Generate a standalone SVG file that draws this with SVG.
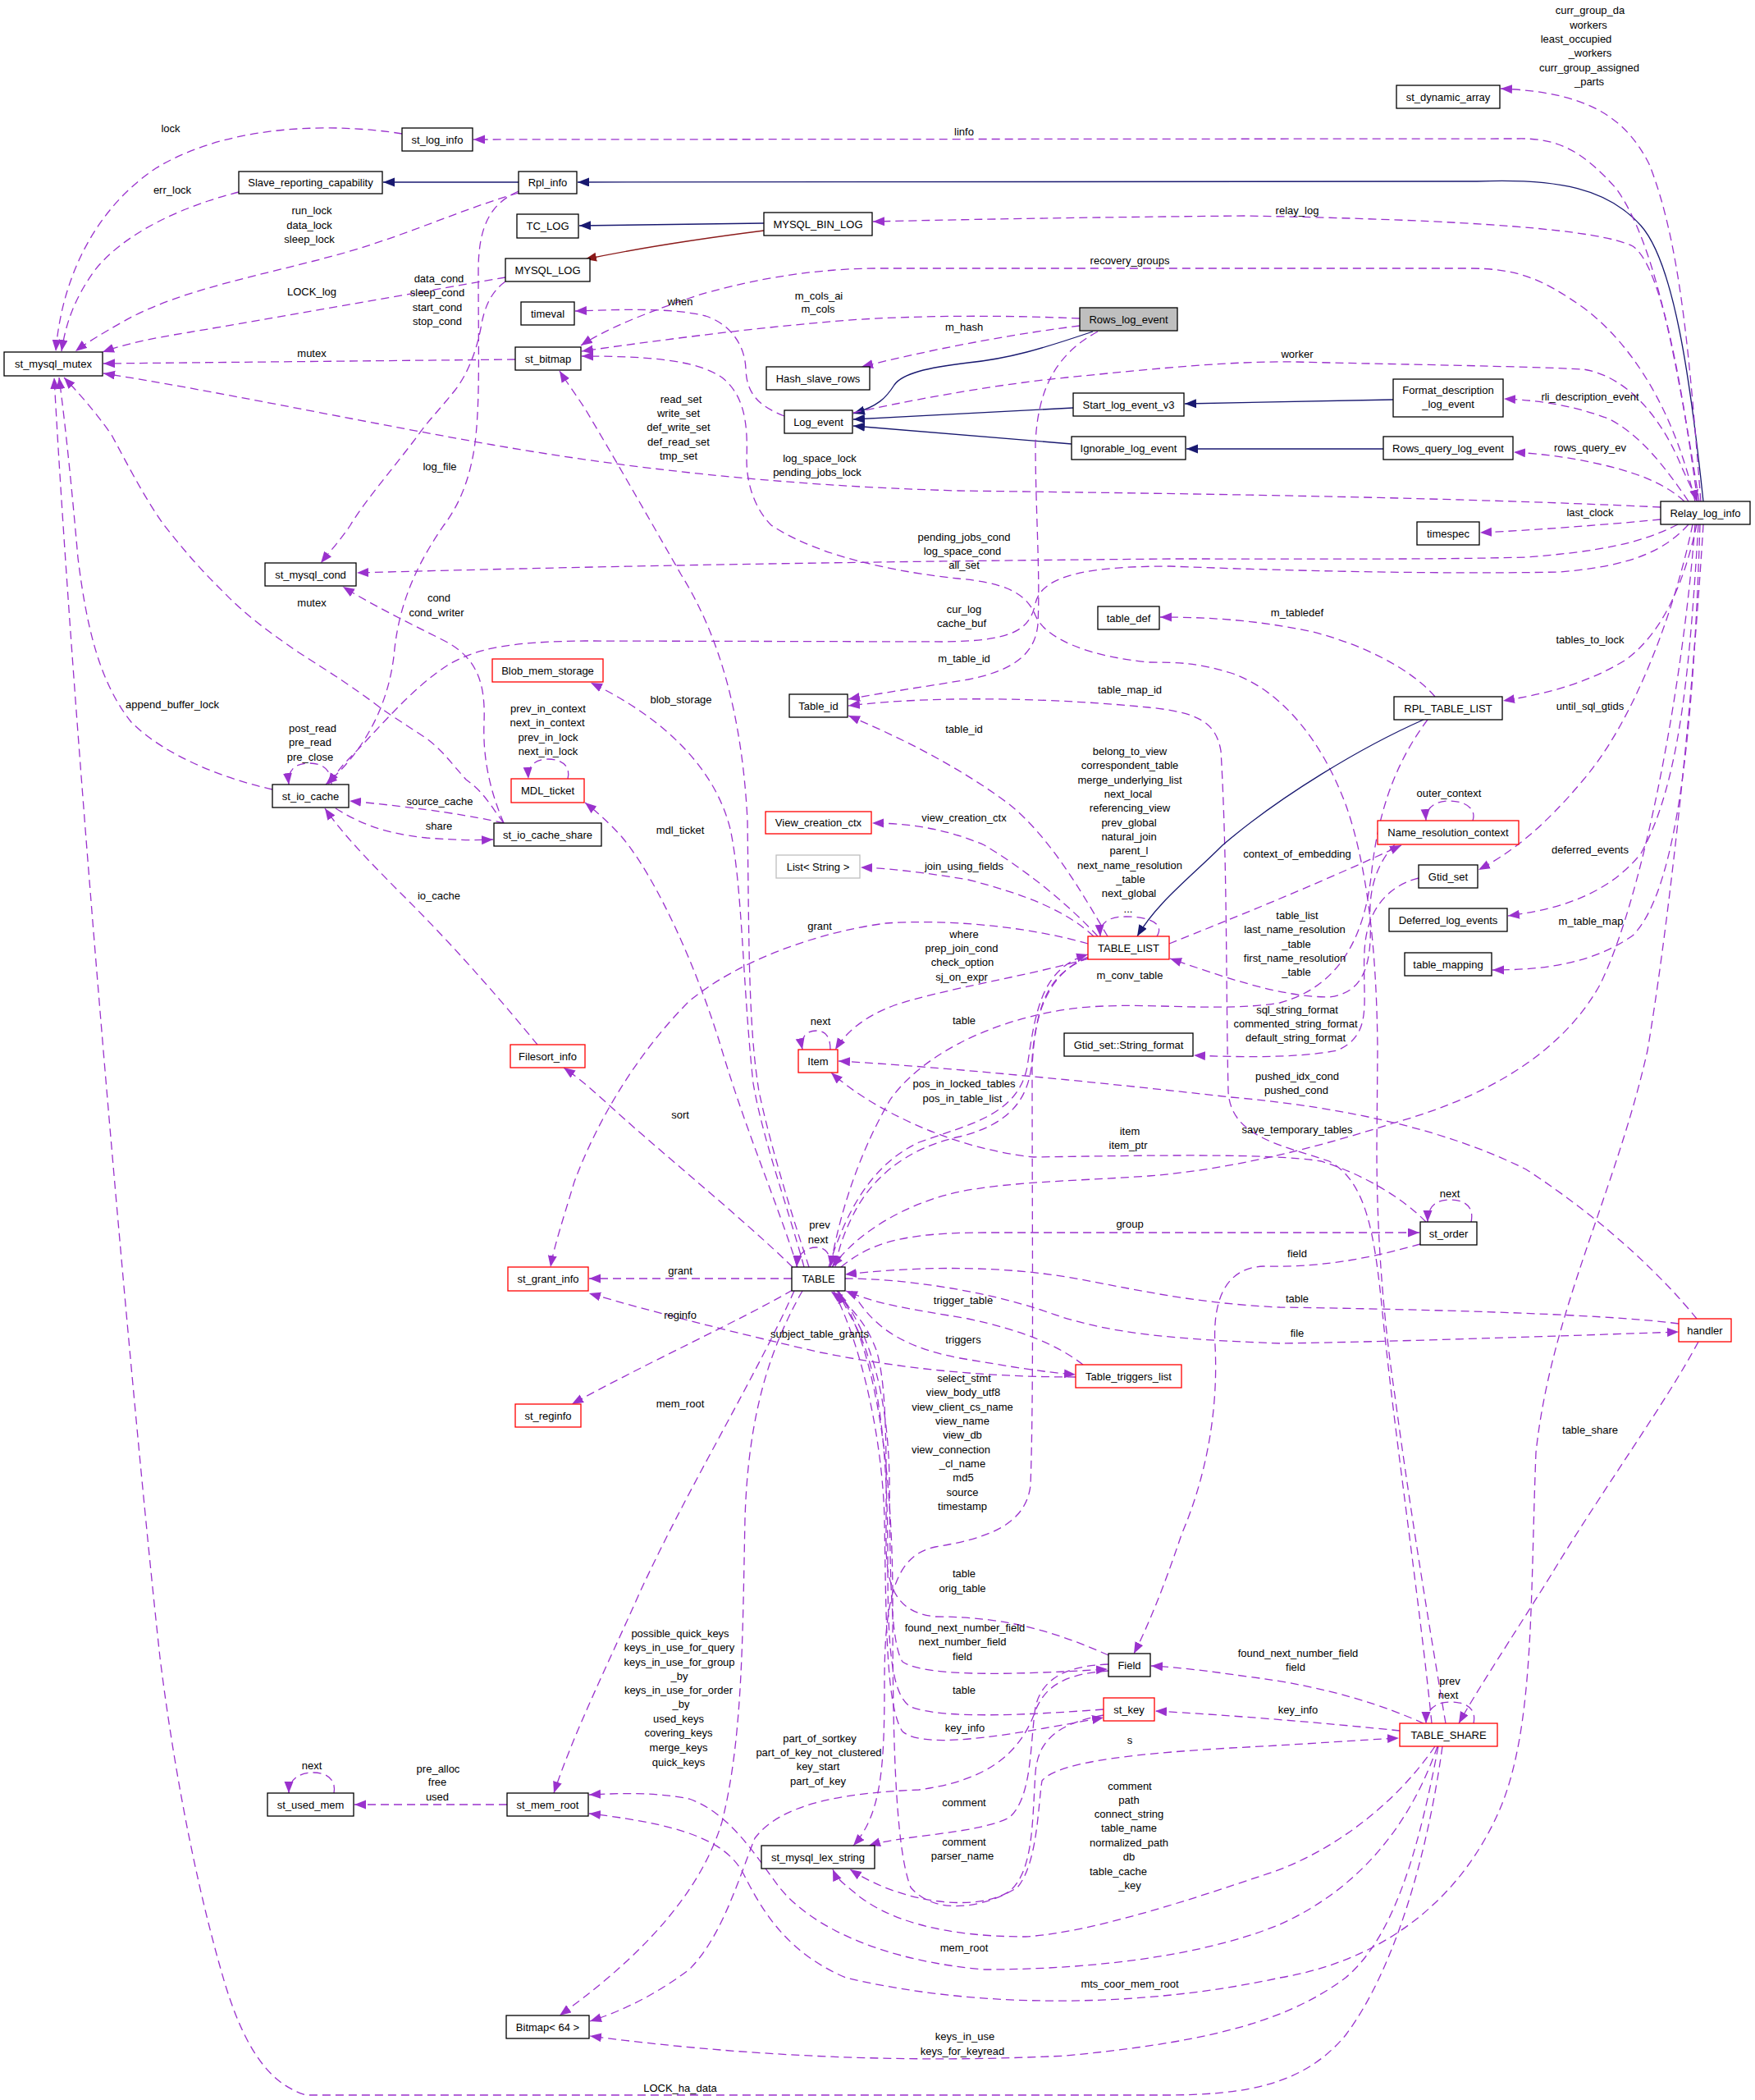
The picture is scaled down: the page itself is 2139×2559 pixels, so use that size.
<svg xmlns="http://www.w3.org/2000/svg" width="2139" height="2559" viewBox="0 0 2139 2559">
<style>
text{font-family:"Liberation Sans",Arial,Helvetica,sans-serif;font-size:13px;fill:#000;text-anchor:middle}
.n rect{fill:#fff;stroke:#000;stroke-width:1.3}
.r rect{fill:#fff;stroke:#ff0000;stroke-width:1.3}
.g rect{fill:#fff;stroke:#bfbfbf;stroke-width:1.3}
.root rect{fill:#bfbfbf;stroke:#000;stroke-width:1.3}
#edges path{fill:none;stroke-width:1.3}
#edges path.e{stroke:#9a32cd;stroke-dasharray:10,6;marker-end:url(#pa)}
#edges path.i{stroke:#191970;marker-end:url(#ba)}
#edges path.p{stroke:#8b1a1a;marker-end:url(#ra)}
</style>
<defs>
<marker id="pa" markerUnits="userSpaceOnUse" markerWidth="16" markerHeight="12" refX="14" refY="5.5" orient="auto"><path d="M0,0 L14,5.5 L0,11 z" fill="#9a32cd"/></marker>
<marker id="ba" markerUnits="userSpaceOnUse" markerWidth="16" markerHeight="12" refX="14" refY="5.5" orient="auto"><path d="M0,0 L14,5.5 L0,11 z" fill="#191970"/></marker>
<marker id="ra" markerUnits="userSpaceOnUse" markerWidth="16" markerHeight="12" refX="14" refY="5.5" orient="auto"><path d="M0,0 L14,5.5 L0,11 z" fill="#8b1a1a"/></marker>
</defs>
<rect x="0" y="0" width="2139" height="2559" fill="#fff"/>
<g id="edges">
<path class="e" d="M490,163 C410,150 280,150 190,205 C115,255 75,340 68,428"/>
<path class="e" d="M291,234 C220,252 150,285 115,330 C90,365 80,395 75,428"/>
<path class="i" d="M632,222 L467,222"/>
<path class="e" d="M632,235 C560,256 500,285 420,308 C320,336 220,352 150,392 C125,406 105,418 92,428"/>
<path class="e" d="M616,338 C500,358 330,388 230,405 C180,413 150,420 125,429"/>
<path class="e" d="M628,438 L126,443"/>
<path class="e" d="M2024,618 C1750,605 1400,601 1168,598 C950,592 760,570 600,542 C420,510 250,474 126,455"/>
<path class="e" d="M632,233 C598,248 583,275 583,330 C583,420 585,480 580,531 C575,580 560,615 541,640 C510,685 488,730 481,790 C476,850 450,910 397,956"/>
<path class="e" d="M616,343 C598,356 590,375 586,400 C580,430 570,455 555,475 C535,500 520,515 509,531 C480,570 445,610 427,640 C415,658 402,672 391,686"/>
<path class="i" d="M931,272 L706,275"/>
<path class="p" d="M931,281 C860,290 780,302 713,316"/>
<path class="i" d="M2076,611 C2060,460 2040,320 2000,275 C1960,230 1900,217 1800,221 L704,222"/>
<path class="e" d="M2073,611 C2060,450 2050,300 2010,200 C1980,140 1930,112 1829,108"/>
<path class="e" d="M2071,611 C2045,450 2020,300 1970,230 C1930,185 1900,168 1850,169 L577,170"/>
<path class="e" d="M2069,611 C2045,430 2020,320 1990,300 C1950,280 1800,268 1517,263 C1300,265 1150,268 1064,270"/>
<path class="e" d="M2066,611 C2040,500 1990,420 1930,375 C1880,340 1850,327 1790,327 L1072,327 C980,327 900,345 850,360 C790,380 740,400 708,421"/>
<path class="e" d="M1316,388 C1200,383 1080,385 1000,393 C900,402 800,415 709,428"/>
<path class="e" d="M1316,397 C1250,405 1150,422 1050,447"/>
<path class="i" d="M1332,404 C1270,425 1230,437 1180,442 C1130,448 1100,455 1090,469 C1080,485 1070,495 1040,504"/>
<path class="i" d="M1308,497 L1040,511"/>
<path class="i" d="M1306,541 L1040,519"/>
<path class="i" d="M1698,487 L1444,492"/>
<path class="i" d="M1686,547 L1446,547"/>
<path class="e" d="M956,507 C925,495 910,480 909,450 C908,420 890,395 860,385 C820,375 760,377 701,379"/>
<path class="e" d="M1040,503 C1100,490 1200,470 1300,460 C1420,448 1500,440 1580,441 C1700,444 1850,446 1930,450 C1990,460 2030,520 2050,570 C2060,592 2066,603 2068,611"/>
<path class="e" d="M2058,611 C2030,570 2000,530 1960,510 C1920,495 1880,488 1833,486"/>
<path class="e" d="M2053,611 C2030,590 2000,578 1960,568 C1920,558 1880,553 1845,551"/>
<path class="e" d="M2024,633 C1950,640 1870,646 1804,649"/>
<path class="e" d="M2045,639 C2000,662 1950,672 1860,679 C1750,682 1600,681 1426,681 C1100,684 800,688 435,698"/>
<path class="e" d="M2058,639 C2030,670 1990,690 1900,697 C1750,700 1550,695 1426,690 C1330,690 1270,700 1262,735 C1255,770 1230,781 1150,782 L713,781 C620,782 580,790 545,811 C500,840 460,890 420,930 C410,942 405,948 400,956"/>
<path class="e" d="M1762,2100 C1745,2000 1720,1850 1700,1700 C1685,1600 1678,1500 1678,1400 L1679,1280 C1678,1150 1665,1050 1640,980 C1610,900 1560,840 1500,820 C1460,808 1440,807 1400,807 C1330,800 1275,780 1262,750 C1250,720 1220,710 1168,705 C1100,698 1000,680 940,640 C920,620 910,590 910,560 C912,510 905,480 880,460 C850,440 800,434 709,434"/>
<path class="e" d="M986,1544 C965,1480 940,1400 925,1330 C912,1250 913,1150 911,1000 C905,880 880,780 830,700 C790,630 750,560 713,498 C700,478 690,465 682,452"/>
<path class="e" d="M980,1544 C960,1470 930,1390 918,1320 C905,1200 905,1080 890,1010 C870,930 800,870 720,832"/>
<path class="e" d="M972,1544 C945,1460 910,1380 880,1280 C850,1180 800,1070 758,1020 C740,1000 728,990 713,978"/>
<path class="e" d="M614,1003 C600,970 588,930 590,880 C592,830 580,800 540,780 C490,755 450,735 418,715"/>
<path class="e" d="M409,985 C430,998 460,1015 520,1021 C560,1024 580,1024 601,1023"/>
<path class="e" d="M614,1003 C580,995 520,985 426,976"/>
<path class="e" d="M404,956 C404,935 390,930 377,930 C360,930 350,938 352,956"/>
<path class="e" d="M655,1273 C620,1230 560,1160 500,1100 C460,1060 420,1020 396,985"/>
<path class="e" d="M614,1003 C600,985 590,965 568,950 C550,930 540,915 520,900 C490,880 470,868 455,856 C420,830 390,812 364,795 C320,765 295,745 273,722 C240,690 220,665 200,640 C175,605 155,565 136,530 C115,500 95,478 78,460"/>
<path class="e" d="M332,962 C270,948 200,920 160,880 C120,830 105,760 95,680 C88,600 80,520 72,460"/>
<path class="e" d="M1758,2128 C1740,2260 1700,2400 1640,2480 C1590,2540 1520,2553 1420,2553 L373,2553 C330,2540 300,2500 275,2420 C245,2320 215,2180 195,2020 C160,1700 90,900 66,460"/>
<path class="e" d="M966,1544 C900,1480 800,1400 735,1340 C715,1322 700,1310 687,1301"/>
<path class="e" d="M965,1558 L718,1558"/>
<path class="e" d="M966,1572 C900,1610 790,1660 697,1711"/>
<path class="e" d="M1311,1678 C1200,1678 1100,1668 1000,1648 C900,1625 800,1600 718,1576"/>
<path class="e" d="M1320,1663 C1290,1640 1250,1622 1180,1607 C1110,1595 1070,1590 1031,1573"/>
<path class="e" d="M1038,1573 C1060,1610 1090,1640 1170,1655 C1230,1665 1270,1672 1311,1675"/>
<path class="e" d="M1327,1168 C1250,1190 1150,1205 1090,1225 C1050,1240 1030,1260 1018,1279"/>
<path class="e" d="M1012,1279 C1012,1262 1005,1256 995,1256 C982,1256 975,1265 978,1279"/>
<path class="e" d="M1012,1544 C1013,1528 1006,1520 995,1520 C982,1520 972,1528 971,1544"/>
<path class="e" d="M1010,1544 C1030,1480 1060,1420 1120,1392 C1180,1370 1240,1360 1252,1300 C1262,1230 1270,1180 1326,1163"/>
<path class="e" d="M1326,1166 C1280,1185 1262,1230 1258,1290 C1255,1340 1230,1370 1170,1385 C1100,1400 1060,1440 1040,1480 C1030,1500 1022,1520 1018,1544"/>
<path class="e" d="M1025,1544 C1060,1515 1100,1502 1200,1502 L1730,1502"/>
<path class="e" d="M2066,639 C2050,850 2000,1100 1950,1200 C1900,1290 1800,1340 1700,1368 C1600,1400 1500,1425 1400,1433 C1300,1440 1200,1440 1140,1460 C1080,1480 1040,1510 1014,1544"/>
<path class="e" d="M1738,1489 C1710,1460 1660,1430 1610,1415 C1550,1405 1400,1408 1260,1410 C1160,1400 1060,1350 1013,1307"/>
<path class="e" d="M1793,1489 C1797,1470 1785,1462 1767,1462 C1750,1462 1740,1470 1740,1489"/>
<path class="e" d="M2068,1607 C2030,1560 1960,1490 1860,1425 C1770,1380 1650,1350 1500,1337 C1350,1320 1150,1300 1022,1293"/>
<path class="e" d="M1731,1516 C1680,1530 1620,1545 1540,1543 C1490,1545 1478,1590 1481,1640 C1485,1720 1470,1800 1440,1870 C1420,1930 1400,1980 1382,2015"/>
<path class="e" d="M2046,1613 C1950,1600 1700,1595 1560,1593 C1450,1588 1380,1570 1300,1556 C1200,1540 1100,1545 1030,1553"/>
<path class="e" d="M1030,1558 C1100,1558 1200,1572 1280,1600 C1350,1625 1430,1632 1560,1637 C1700,1635 1900,1628 2046,1623"/>
<path class="e" d="M2070,1635 C2030,1710 1950,1820 1890,1920 C1840,2000 1800,2060 1778,2100"/>
<path class="e" d="M1796,2100 C1800,2080 1785,2074 1767,2074 C1748,2074 1738,2085 1738,2100"/>
<path class="e" d="M1735,2100 C1690,2080 1620,2055 1520,2043 C1470,2036 1440,2032 1403,2030"/>
<path class="e" d="M1706,2109 C1620,2100 1500,2090 1408,2085"/>
<path class="e" d="M968,1573 C920,1680 840,1810 780,1940 C740,2030 700,2110 675,2185"/>
<path class="e" d="M978,1573 C940,1640 912,1720 908,1850 C905,2000 905,2120 880,2220 C850,2320 760,2400 682,2456"/>
<path class="e" d="M1753,2128 C1730,2250 1700,2360 1640,2410 C1560,2470 1450,2490 1300,2505 C1100,2515 900,2505 719,2481"/>
<path class="e" d="M1351,2036 C1290,2040 1270,2060 1260,2090 C1240,2140 1200,2170 1120,2181 C1020,2185 950,2200 920,2240 C900,2290 880,2360 840,2400 C800,2430 760,2450 719,2463"/>
<path class="e" d="M1752,2128 C1720,2220 1660,2300 1560,2345 C1450,2390 1300,2400 1200,2400 C1080,2390 990,2350 950,2300 C920,2260 890,2210 840,2192 C800,2184 760,2185 718,2187"/>
<path class="e" d="M2076,639 C2060,900 2030,1150 2008,1280 C1970,1450 1890,1600 1872,1770 C1865,1950 1870,2100 1830,2200 C1780,2320 1680,2390 1560,2410 C1400,2445 1200,2450 1031,2410 C960,2380 930,2330 908,2287 C890,2250 850,2225 718,2210"/>
<path class="e" d="M618,2199 L432,2199"/>
<path class="e" d="M407,2185 C410,2168 398,2160 382,2160 C365,2160 352,2168 352,2185"/>
<path class="e" d="M1351,2017 C1290,1990 1230,1970 1140,1970 C1090,1965 1080,1930 1080,1880 C1080,1780 1082,1690 1068,1645 C1055,1610 1035,1590 1013,1574"/>
<path class="e" d="M1020,1573 C1060,1620 1082,1700 1084,1800 C1085,1900 1084,2000 1100,2025 C1130,2045 1250,2040 1350,2034"/>
<path class="e" d="M1345,2083 C1250,2090 1150,2095 1110,2080 C1085,2065 1082,2000 1082,1900 C1082,1790 1075,1680 1045,1620 C1035,1600 1026,1585 1022,1574"/>
<path class="e" d="M1016,1573 C1050,1640 1075,1750 1078,1850 C1080,1980 1080,2080 1100,2110 C1130,2135 1250,2110 1345,2093"/>
<path class="e" d="M1351,2028 C1300,2030 1270,2045 1262,2080 C1255,2130 1258,2190 1230,2215 C1190,2235 1100,2236 1059,2249"/>
<path class="e" d="M1345,2090 C1290,2100 1265,2120 1262,2160 C1258,2220 1260,2280 1230,2305 C1190,2330 1100,2320 1036,2278"/>
<path class="e" d="M1022,1573 C1070,1650 1088,1800 1088,1950 C1088,2100 1090,2250 1110,2300 C1140,2335 1200,2325 1240,2300 C1265,2270 1265,2200 1270,2170 C1290,2145 1400,2136 1500,2130 C1600,2125 1660,2120 1705,2118"/>
<path class="e" d="M1749,2128 C1700,2200 1620,2260 1540,2285 C1450,2315 1330,2355 1250,2360 C1150,2360 1080,2340 1040,2305 C1028,2295 1020,2290 1015,2278"/>
<path class="e" d="M1327,1167 C1280,1185 1262,1220 1258,1300 C1258,1500 1260,1700 1256,1810 C1250,1860 1200,1875 1140,1885 C1090,1895 1078,1950 1078,2050 C1078,2150 1075,2210 1040,2249"/>
<path class="e" d="M1410,1141 C1420,1125 1400,1117 1372,1117 C1350,1117 1340,1125 1341,1141"/>
<path class="e" d="M1350,1141 C1320,1090 1280,1020 1230,980 C1170,935 1100,900 1034,872"/>
<path class="e" d="M1338,1141 C1300,1100 1250,1060 1200,1030 C1150,1008 1100,1003 1063,1003"/>
<path class="e" d="M1333,1141 C1300,1110 1250,1090 1180,1072 C1120,1062 1080,1058 1049,1057"/>
<path class="e" d="M1326,1150 C1250,1128 1150,1120 1080,1125 C1000,1135 900,1170 840,1220 C780,1280 730,1360 700,1440 C685,1490 675,1520 671,1544"/>
<path class="e" d="M1338,404 C1290,430 1265,470 1262,540 C1262,620 1268,700 1265,760 C1262,800 1230,818 1180,828 C1120,838 1070,845 1034,852"/>
<path class="e" d="M1745,2100 C1730,1950 1700,1750 1685,1600 C1675,1500 1665,1440 1620,1415 C1560,1395 1500,1385 1497,1330 C1494,1200 1496,1050 1488,915 C1482,880 1460,868 1400,862 C1300,852 1150,846 1034,860"/>
<path class="i" d="M1735,877 C1660,910 1560,970 1490,1030 C1450,1070 1410,1100 1386,1141"/>
<path class="e" d="M1749,849 C1720,815 1660,785 1600,770 C1530,755 1470,752 1414,752"/>
<path class="e" d="M2068,639 C2055,700 2030,770 1980,805 C1930,835 1880,846 1832,854"/>
<path class="e" d="M1425,1150 C1500,1120 1600,1080 1708,1030"/>
<path class="e" d="M1795,1000 C1800,985 1785,976 1767,976 C1748,976 1737,985 1738,1000"/>
<path class="e" d="M1700,1029 C1680,1050 1668,1080 1670,1120 C1672,1170 1665,1210 1620,1215 C1560,1215 1490,1190 1426,1168"/>
<path class="e" d="M1729,1070 C1690,1080 1665,1110 1663,1160 C1660,1220 1675,1260 1630,1280 C1580,1290 1500,1288 1455,1286"/>
<path class="e" d="M2063,639 C2040,750 1990,880 1930,950 C1880,1010 1840,1040 1802,1060"/>
<path class="e" d="M2070,639 C2060,800 2050,950 2000,1040 C1960,1090 1900,1108 1838,1116"/>
<path class="e" d="M2072,639 C2065,850 2050,1080 1990,1140 C1940,1175 1880,1182 1819,1182"/>
<path class="e" d="M1740,877 C1700,930 1680,990 1672,1060 C1665,1130 1640,1200 1560,1222 C1480,1235 1380,1218 1300,1230 C1200,1245 1120,1290 1085,1340 C1050,1400 1025,1470 1012,1544"/>
<path class="e" d="M692,949 C696,933 684,925 668,925 C652,925 643,933 644,949"/>
</g>
<g id="labels">
<text x="208" y="161">lock</text>
<text x="210" y="236">err_lock</text>
<text x="380" y="261">run_lock</text><text x="377" y="279">data_lock</text><text x="377" y="296">sleep_lock</text>
<text x="380" y="360">LOCK_log</text>
<text x="535" y="344">data_cond</text><text x="533" y="361">sleep_cond</text><text x="533" y="379">start_cond</text><text x="533" y="396">stop_cond</text>
<text x="380" y="435">mutex</text>
<text x="536" y="573">log_file</text>
<text x="1175" y="165">linfo</text>
<text x="1377" y="322">recovery_groups</text>
<text x="829" y="372">when</text>
<text x="998" y="365">m_cols_ai</text><text x="997" y="381">m_cols</text>
<text x="1175" y="403">m_hash</text>
<text x="830" y="491">read_set</text><text x="827" y="508">write_set</text><text x="827" y="525">def_write_set</text><text x="827" y="543">def_read_set</text><text x="827" y="560">tmp_set</text>
<text x="999" y="563">log_space_lock</text><text x="996" y="580">pending_jobs_lock</text>
<text x="1938" y="17">curr_group_da</text><text x="1936" y="35">workers</text><text x="1921" y="52">least_occupied</text><text x="1938" y="69">_workers</text><text x="1937" y="87">curr_group_assigned</text><text x="1937" y="104">_parts</text>
<text x="1581" y="261">relay_log</text>
<text x="1581" y="436">worker</text>
<text x="1938" y="488">rli_description_event</text>
<text x="1938" y="550">rows_query_ev</text>
<text x="1938" y="629">last_clock</text>
<text x="380" y="739">mutex</text>
<text x="535" y="733">cond</text><text x="532" y="751">cond_writer</text>
<text x="210" y="863">append_buffer_lock</text>
<text x="381" y="892">post_read</text><text x="378" y="909">pre_read</text><text x="378" y="927">pre_close</text>
<text x="536" y="981">source_cache</text>
<text x="535" y="1011">share</text>
<text x="535" y="1096">io_cache</text>
<text x="668" y="868">prev_in_context</text><text x="667" y="885">next_in_context</text><text x="668" y="903">prev_in_lock</text><text x="668" y="920">next_in_lock</text>
<text x="1175" y="659">pending_jobs_cond</text><text x="1173" y="676">log_space_cond</text><text x="1175" y="693">all_set</text>
<text x="1175" y="747">cur_log</text><text x="1172" y="764">cache_buf</text>
<text x="1175" y="807">m_table_id</text>
<text x="830" y="857">blob_storage</text>
<text x="1377" y="845">table_map_id</text>
<text x="1175" y="893">table_id</text>
<text x="1377" y="920">belong_to_view</text><text x="1377" y="937">correspondent_table</text><text x="1377" y="955">merge_underlying_list</text><text x="1375" y="972">next_local</text><text x="1377" y="989">referencing_view</text><text x="1376" y="1007">prev_global</text><text x="1376" y="1024">natural_join</text><text x="1376" y="1041">parent_l</text><text x="1377" y="1059">next_name_resolution</text><text x="1378" y="1076">_table</text><text x="1376" y="1093">next_global</text><text x="1375" y="1112">...</text>
<text x="829" y="1016">mdl_ticket</text>
<text x="1175" y="1001">view_creation_ctx</text>
<text x="1175" y="1060">join_using_fields</text>
<text x="999" y="1133">grant</text>
<text x="1175" y="1143">where</text><text x="1172" y="1160">prep_join_cond</text><text x="1173" y="1177">check_option</text><text x="1172" y="1195">sj_on_expr</text>
<text x="1377" y="1193">m_conv_table</text>
<text x="1000" y="1249">next</text>
<text x="1175" y="1248">table</text>
<text x="1581" y="751">m_tabledef</text>
<text x="1938" y="784">tables_to_lock</text>
<text x="1938" y="865">until_sql_gtids</text>
<text x="1766" y="971">outer_context</text>
<text x="1581" y="1045">context_of_embedding</text>
<text x="1938" y="1040">deferred_events</text>
<text x="1581" y="1120">table_list</text><text x="1578" y="1137">last_name_resolution</text><text x="1580" y="1155">_table</text><text x="1578" y="1172">first_name_resolution</text><text x="1580" y="1189">_table</text>
<text x="1939" y="1127">m_table_map</text>
<text x="1581" y="1235">sql_string_format</text><text x="1579" y="1252">commented_string_format</text><text x="1579" y="1269">default_string_format</text>
<text x="1175" y="1325">pos_in_locked_tables</text><text x="1173" y="1343">pos_in_table_list</text>
<text x="829" y="1363">sort</text>
<text x="1377" y="1383">item</text><text x="1375" y="1400">item_ptr</text>
<text x="1377" y="1496">group</text>
<text x="999" y="1497">prev</text><text x="997" y="1515">next</text>
<text x="829" y="1553">grant</text>
<text x="1174" y="1589">trigger_table</text>
<text x="829" y="1607">reginfo</text>
<text x="999" y="1630">subject_table_grants</text>
<text x="1174" y="1637">triggers</text>
<text x="1175" y="1684">select_stmt</text><text x="1174" y="1701">view_body_utf8</text><text x="1173" y="1719">view_client_cs_name</text><text x="1173" y="1736">view_name</text><text x="1173" y="1753">view_db</text><text x="1159" y="1771">view_connection</text><text x="1173" y="1788">_cl_name</text><text x="1174" y="1805">md5</text><text x="1173" y="1823">source</text><text x="1173" y="1840">timestamp</text>
<text x="829" y="1715">mem_root</text>
<text x="1175" y="1922">table</text><text x="1173" y="1940">orig_table</text>
<text x="1581" y="1316">pushed_idx_cond</text><text x="1580" y="1333">pushed_cond</text>
<text x="1581" y="1381">save_temporary_tables</text>
<text x="1767" y="1459">next</text>
<text x="1581" y="1532">field</text>
<text x="1581" y="1587">table</text>
<text x="1581" y="1629">file</text>
<text x="1938" y="1747">table_share</text>
<text x="380" y="2156">next</text>
<text x="534" y="2160">pre_alloc</text><text x="533" y="2176">free</text><text x="533" y="2194">used</text>
<text x="829" y="1995">possible_quick_keys</text><text x="828" y="2012">keys_in_use_for_query</text><text x="828" y="2030">keys_in_use_for_group</text><text x="828" y="2047">_by</text><text x="827" y="2064">keys_in_use_for_order</text><text x="830" y="2081">_by</text><text x="827" y="2099">used_keys</text><text x="827" y="2116">covering_keys</text><text x="827" y="2134">merge_keys</text><text x="827" y="2152">quick_keys</text>
<text x="1176" y="1988">found_next_number_field</text><text x="1173" y="2005">next_number_field</text><text x="1173" y="2023">field</text>
<text x="1175" y="2064">table</text>
<text x="1176" y="2110">key_info</text>
<text x="1377" y="2125">s</text>
<text x="999" y="2123">part_of_sortkey</text><text x="998" y="2140">part_of_key_not_clustered</text><text x="997" y="2157">key_start</text><text x="997" y="2175">part_of_key</text>
<text x="1175" y="2201">comment</text>
<text x="1377" y="2181">comment</text><text x="1376" y="2198">path</text><text x="1376" y="2215">connect_string</text><text x="1376" y="2232">table_name</text><text x="1376" y="2250">normalized_path</text><text x="1376" y="2267">db</text><text x="1363" y="2285">table_cache</text><text x="1377" y="2302">_key</text>
<text x="1175" y="2249">comment</text><text x="1173" y="2266">parser_name</text>
<text x="1175" y="2378">mem_root</text>
<text x="1377" y="2422">mts_coor_mem_root</text>
<text x="1176" y="2486">keys_in_use</text><text x="1173" y="2504">keys_for_keyread</text>
<text x="829" y="2549">LOCK_ha_data</text>
<text x="1582" y="2019">found_next_number_field</text><text x="1579" y="2036">field</text>
<text x="1767" y="2053">prev</text><text x="1765" y="2070">next</text>
<text x="1582" y="2088">key_info</text>
</g>
<g id="n_st_log_info" class="n"><rect x="490" y="156" width="86" height="28"/><text x="533" y="174.5">st_log_info</text></g>
<g id="n_Slave_reporting_capability" class="n"><rect x="291" y="209" width="175" height="27"/><text x="378.5" y="227">Slave_reporting_capability</text></g>
<g id="n_Rpl_info" class="n"><rect x="632" y="209" width="71" height="27"/><text x="667.5" y="227">Rpl_info</text></g>
<g id="n_TC_LOG" class="n"><rect x="630" y="261" width="75" height="29"/><text x="667.5" y="280">TC_LOG</text></g>
<g id="n_MYSQL_LOG" class="n"><rect x="616" y="315" width="103" height="28"/><text x="667.5" y="333.5">MYSQL_LOG</text></g>
<g id="n_timeval" class="n"><rect x="635" y="368" width="65" height="28"/><text x="667.5" y="386.5">timeval</text></g>
<g id="n_st_bitmap" class="n"><rect x="628" y="423" width="80" height="28"/><text x="668" y="441.5">st_bitmap</text></g>
<g id="n_st_mysql_mutex" class="n"><rect x="5" y="429" width="120" height="29"/><text x="65" y="448">st_mysql_mutex</text></g>
<g id="n_MYSQL_BIN_LOG" class="n"><rect x="931" y="259" width="132" height="28"/><text x="997" y="277.5">MYSQL_BIN_LOG</text></g>
<g id="n_Rows_log_event" class="root"><rect x="1316" y="375" width="119" height="28"/><text x="1375.5" y="393.5">Rows_log_event</text></g>
<g id="n_Hash_slave_rows" class="n"><rect x="934" y="447" width="126" height="28"/><text x="997" y="465.5">Hash_slave_rows</text></g>
<g id="n_Log_event" class="n"><rect x="956" y="500" width="83" height="28"/><text x="997.5" y="518.5">Log_event</text></g>
<g id="n_Start_log_event_v3" class="n"><rect x="1308" y="479" width="135" height="28"/><text x="1375.5" y="497.5">Start_log_event_v3</text></g>
<g id="n_Ignorable_log_event" class="n"><rect x="1306" y="532" width="139" height="28"/><text x="1375.5" y="550.5">Ignorable_log_event</text></g>
<g id="n_st_dynamic_array" class="n"><rect x="1702" y="104" width="126" height="28"/><text x="1765" y="122.5">st_dynamic_array</text></g>
<g id="n_Format_description_log_event" class="n"><rect x="1698" y="462" width="134" height="46"/><text x="1765" y="480">Format_description</text><text x="1765" y="497">_log_event</text></g>
<g id="n_Rows_query_log_event" class="n"><rect x="1686" y="532" width="158" height="28"/><text x="1765" y="550.5">Rows_query_log_event</text></g>
<g id="n_Relay_log_info" class="n"><rect x="2024" y="611" width="109" height="28"/><text x="2078.5" y="629.5">Relay_log_info</text></g>
<g id="n_timespec" class="n"><rect x="1727" y="636" width="76" height="28"/><text x="1765" y="654.5">timespec</text></g>
<g id="n_st_mysql_cond" class="n"><rect x="323" y="686" width="111" height="28"/><text x="378.5" y="704.5">st_mysql_cond</text></g>
<g id="n_Blob_mem_storage" class="r"><rect x="600" y="803" width="135" height="28"/><text x="667.5" y="821.5">Blob_mem_storage</text></g>
<g id="n_st_io_cache" class="n"><rect x="332" y="956" width="93" height="28"/><text x="378.5" y="974.5">st_io_cache</text></g>
<g id="n_MDL_ticket" class="r"><rect x="623" y="949" width="89" height="29"/><text x="667.5" y="968">MDL_ticket</text></g>
<g id="n_st_io_cache_share" class="n"><rect x="602" y="1003" width="131" height="28"/><text x="667.5" y="1021.5">st_io_cache_share</text></g>
<g id="n_Filesort_info" class="r"><rect x="622" y="1273" width="91" height="28"/><text x="667.5" y="1291.5">Filesort_info</text></g>
<g id="n_table_def" class="n"><rect x="1338" y="739" width="75" height="28"/><text x="1375.5" y="757.5">table_def</text></g>
<g id="n_Table_id" class="n"><rect x="962" y="846" width="71" height="28"/><text x="997.5" y="864.5">Table_id</text></g>
<g id="n_View_creation_ctx" class="r"><rect x="933" y="989" width="129" height="27"/><text x="997.5" y="1007">View_creation_ctx</text></g>
<g id="n_List_String" class="g"><rect x="946" y="1042" width="102" height="28"/><text x="997" y="1060.5">List&lt; String &gt;</text></g>
<g id="n_TABLE_LIST" class="r"><rect x="1326" y="1141" width="99" height="28"/><text x="1375.5" y="1159.5">TABLE_LIST</text></g>
<g id="n_Item" class="r"><rect x="973" y="1279" width="48" height="28"/><text x="997" y="1297.5">Item</text></g>
<g id="n_Gtid_set_String_format" class="n"><rect x="1297" y="1259" width="157" height="28"/><text x="1375.5" y="1277.5">Gtid_set::String_format</text></g>
<g id="n_RPL_TABLE_LIST" class="n"><rect x="1699" y="849" width="132" height="28"/><text x="1765" y="867.5">RPL_TABLE_LIST</text></g>
<g id="n_Name_resolution_context" class="r"><rect x="1679" y="1000" width="172" height="29"/><text x="1765" y="1019">Name_resolution_context</text></g>
<g id="n_Gtid_set" class="n"><rect x="1729" y="1054" width="72" height="28"/><text x="1765" y="1072.5">Gtid_set</text></g>
<g id="n_Deferred_log_events" class="n"><rect x="1693" y="1107" width="144" height="28"/><text x="1765" y="1125.5">Deferred_log_events</text></g>
<g id="n_table_mapping" class="n"><rect x="1712" y="1161" width="106" height="28"/><text x="1765" y="1179.5">table_mapping</text></g>
<g id="n_TABLE" class="n"><rect x="965" y="1544" width="65" height="29"/><text x="997.5" y="1563">TABLE</text></g>
<g id="n_st_grant_info" class="r"><rect x="619" y="1544" width="98" height="29"/><text x="668" y="1563">st_grant_info</text></g>
<g id="n_st_reginfo" class="r"><rect x="628" y="1711" width="80" height="28"/><text x="668" y="1729.5">st_reginfo</text></g>
<g id="n_Table_triggers_list" class="r"><rect x="1311" y="1663" width="129" height="28"/><text x="1375.5" y="1681.5">Table_triggers_list</text></g>
<g id="n_st_order" class="n"><rect x="1731" y="1489" width="69" height="28"/><text x="1765.5" y="1507.5">st_order</text></g>
<g id="n_handler" class="r"><rect x="2046" y="1607" width="64" height="28"/><text x="2078" y="1625.5">handler</text></g>
<g id="n_st_used_mem" class="n"><rect x="326" y="2185" width="105" height="28"/><text x="378.5" y="2203.5">st_used_mem</text></g>
<g id="n_st_mem_root" class="n"><rect x="618" y="2185" width="99" height="28"/><text x="667.5" y="2203.5">st_mem_root</text></g>
<g id="n_Bitmap_64" class="n"><rect x="617" y="2456" width="101" height="28"/><text x="667.5" y="2474.5">Bitmap&lt; 64 &gt;</text></g>
<g id="n_Field" class="n"><rect x="1351" y="2015" width="51" height="28"/><text x="1376.5" y="2033.5">Field</text></g>
<g id="n_st_key" class="r"><rect x="1345" y="2069" width="62" height="28"/><text x="1376" y="2087.5">st_key</text></g>
<g id="n_st_mysql_lex_string" class="n"><rect x="928" y="2249" width="138" height="28"/><text x="997" y="2267.5">st_mysql_lex_string</text></g>
<g id="n_TABLE_SHARE" class="r"><rect x="1706" y="2100" width="119" height="28"/><text x="1765.5" y="2118.5">TABLE_SHARE</text></g>
</svg>
